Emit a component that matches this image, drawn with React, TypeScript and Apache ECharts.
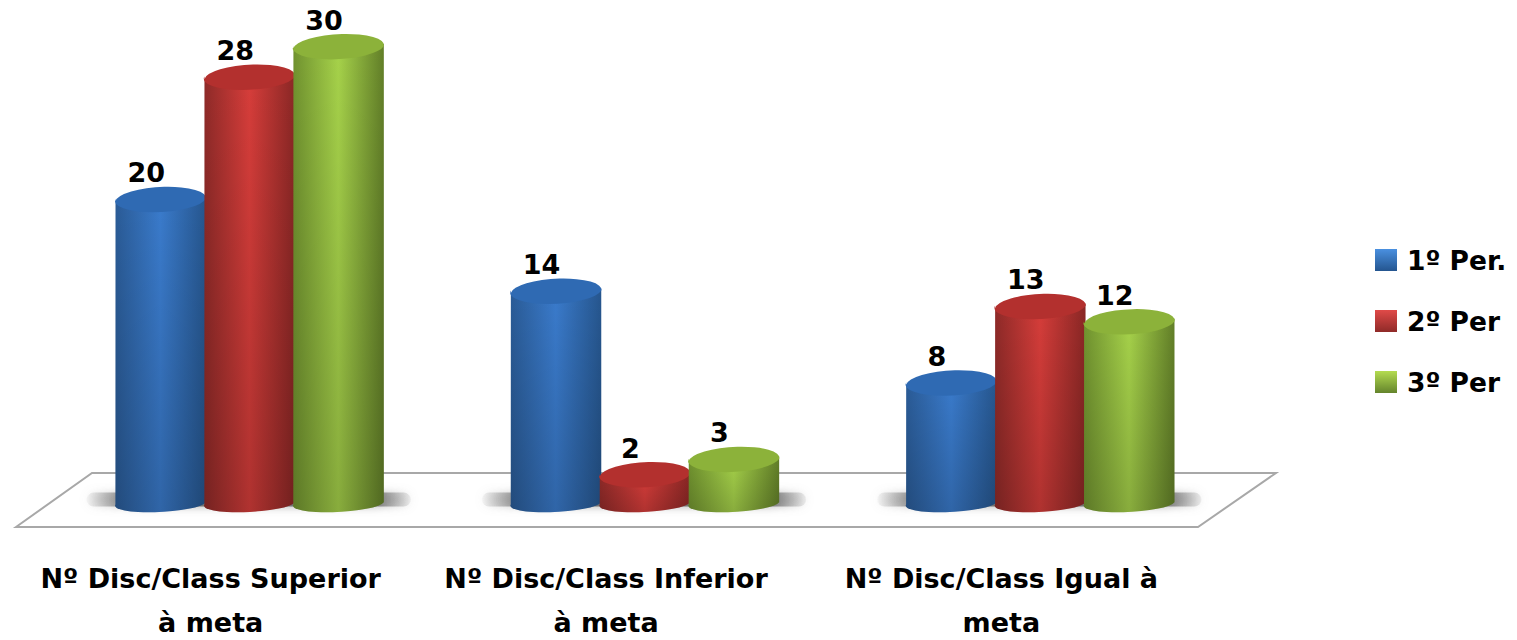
import React, { useEffect, useRef } from "react";
import * as echarts from "echarts";

const categories = [
  "Nº Disc/Class Superior\nà meta",
  "Nº Disc/Class Inferior\nà meta",
  "Nº Disc/Class Igual à\nmeta",
];
const seriesNames = ["1º Per.", "2º Per", "3º Per"];
const period1 = [20, 14, 8];
const period2 = [28, 2, 13];
const period3 = [30, 3, 12];
const seriesValues = [period1, period2, period3];
const sideColors = [
  ["#2a5b96", "#3a7bcc", "#26568e"],
  ["#8e2a28", "#d63d3a", "#8a2725"],
  ["#70922f", "#a6d24a", "#627f28"],
];
const capColors = ["#2f6ab3", "#b3302e", "#8cb23a"];
const legendColors = [
  ["#4a90e0", "#24558f"],
  ["#e04a48", "#8f2a28"],
  ["#b4dc50", "#64842c"],
];
const FONT = "'DejaVu Sans', sans-serif";

function cylinder(seriesIndex: number) {
  return (_params: any, api: any) => {
    const band = api.size([1, 0])[0];
    const offset = (seriesIndex - 1) * band * 0.225;
    const [cx0, topY] = api.coord([api.value(0), api.value(1)]);
    const [, baseY] = api.coord([api.value(0), 0]);
    const cx = cx0 + offset;
    const rx = band * 0.1145;
    const ry = 13;
    const ryB = 8.5;
    const deg = 3;
    const t = (deg * Math.PI) / 180;
    const dx = rx * Math.cos(t);
    const dy = rx * Math.sin(t);
    const lx = cx - dx;
    const rxp = cx + dx;
    const bodyPath =
      `M${lx} ${topY + dy} L${rxp} ${topY - dy} L${rxp} ${baseY - dy} ` +
      `A${rx} ${ryB} ${-deg} 0 1 ${lx} ${baseY + dy} Z`;
    const capPath =
      `M${lx} ${topY + dy} A${rx} ${ry} ${-deg} 0 1 ${rxp} ${topY - dy} ` +
      `A${rx} ${ry} ${-deg} 0 1 ${lx} ${topY + dy} Z`;
    const s = sideColors[seriesIndex];
    return {
      type: "group",
      children: [
        {
          type: "path",
          shape: { pathData: bodyPath },
          style: {
            fill: new echarts.graphic.LinearGradient(0, 0, 1, 0, [
              { offset: 0, color: s[0] },
              { offset: 0.5, color: s[1] },
              { offset: 1, color: s[2] },
            ]),
          },
        },
        {
          type: "path",
          shape: { pathData: bodyPath },
          style: {
            fill: new echarts.graphic.LinearGradient(0, 0, 0, 1, [
              { offset: 0, color: "rgba(0,0,0,0)" },
              { offset: 1, color: "rgba(0,0,0,0.18)" },
            ]),
          },
        },
        {
          type: "path",
          shape: { pathData: capPath },
          style: { fill: capColors[seriesIndex] },
        },
        {
          type: "text",
          style: {
            text: String(api.value(1)),
            x: cx - 14.5,
            y: topY - 26,
            align: "center",
            verticalAlign: "middle",
            fill: "#000",
            font: `700 27px ${FONT}`,
          },
        },
      ],
    };
  };
}

function shadow(_params: any, api: any) {
  const band = api.size([1, 0])[0];
  const [cx, baseY] = api.coord([api.value(0), 0]);
  const halfWidth = band * 0.41;
  return {
    type: "rect",
    shape: { x: cx - halfWidth - 1, y: baseY - 12, width: halfWidth * 2, height: 14, r: 7 },
    style: {
      fill: new echarts.graphic.LinearGradient(0, 0, 1, 0, [
        { offset: 0, color: "rgba(120,120,120,0.05)" },
        { offset: 0.15, color: "rgba(105,105,105,0.9)" },
        { offset: 0.88, color: "rgba(105,105,105,0.9)" },
        { offset: 1, color: "rgba(120,120,120,0.1)" },
      ]),
      shadowBlur: 8,
      shadowColor: "rgba(120,120,120,0.7)",
    },
  };
}

export default function App() {
  const ref = useRef<HTMLDivElement>(null);
  useEffect(() => {
    document.body.style.margin = "0";
    const chart = echarts.init(ref.current!, undefined, { renderer: "svg" });
    chart.setOption({
      animation: false,
      backgroundColor: "#fff",
      grid: {
        left: 52,
        width: 1186,
        top: 46,
        height: 458.6,
        containLabel: false,
        outerBoundsMode: "none",
      },
      xAxis: {
        type: "category",
        data: categories,
        axisLine: { show: false },
        axisTick: { show: false },
        axisLabel: {
          interval: 0,
          hideOverlap: false,
          margin: 52,
          color: "#000",
          fontFamily: FONT,
          fontWeight: 700,
          fontSize: 27,
          lineHeight: 44,
          padding: [0, 78, 0, 0],
        },
      },
      yAxis: { type: "value", min: 0, max: 30, show: false },
      legend: {
        orient: "vertical",
        left: 1370,
        top: 238,
        itemWidth: 22,
        itemHeight: 22,
        itemGap: 27,
        textStyle: {
          color: "#000",
          fontFamily: FONT,
          fontWeight: 700,
          fontSize: 26.5,
          lineHeight: 34,
          padding: [0, 0, 0, 5],
        },
        data: seriesNames.map((name, i) => ({
          name,
          icon: "rect",
          itemStyle: {
            color: new echarts.graphic.LinearGradient(0, 0, 0, 1, [
              { offset: 0, color: legendColors[i][0] },
              { offset: 1, color: legendColors[i][1] },
            ]),
          },
        })),
      },
      graphic: [
        {
          type: "polygon",
          z: 0,
          shape: {
            points: [
              [16, 527],
              [92, 473],
              [1276, 473],
              [1198, 527],
            ],
          },
          style: { fill: "#fff", stroke: "#a8a8a8", lineWidth: 2 },
        },
      ],
      series: [
        {
          type: "custom",
          name: "__shadow",
          silent: true,
          z: 1,
          renderItem: shadow,
          data: categories.map((_, i) => [i, 0]),
        },
        ...seriesNames.map((name, si) => ({
          type: "custom",
          name,
          z: 2 + si,
          renderItem: cylinder(si),
          itemStyle: { color: capColors[si] },
          data: seriesValues[si].map((v, i) => [i, v]),
        })),
      ],
    });
    return () => chart.dispose();
  }, []);
  return (
    <div
      ref={ref}
      style={{ position: "absolute", left: 0, top: 0, width: 1517, height: 640 }}
    />
  );
}
